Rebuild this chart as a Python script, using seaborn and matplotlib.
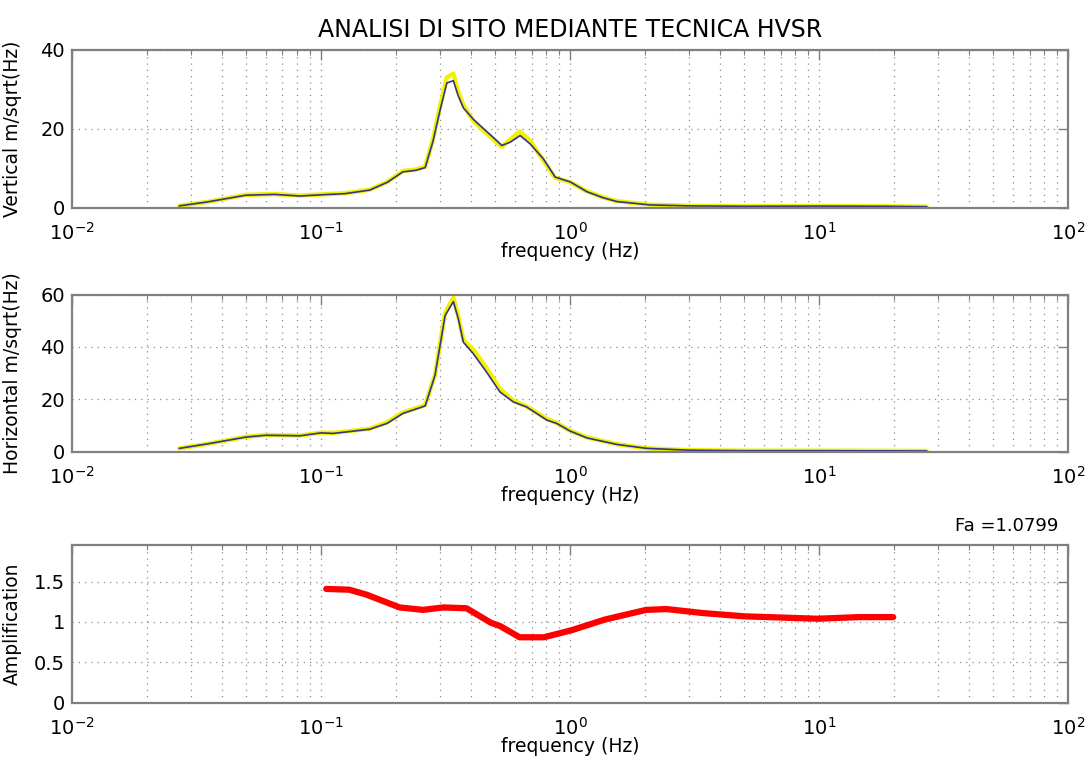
import numpy as np
import pandas as pd
import matplotlib
matplotlib.use("Agg")
import matplotlib.pyplot as plt
import seaborn as sns
from matplotlib.ticker import LogLocator, NullFormatter, FixedLocator

# Vertical spectrum (Hz, m/sqrt(Hz))
freq_v = [0.027, 0.035, 0.05, 0.065, 0.0825, 0.1, 0.125, 0.157, 0.185, 0.213, 0.24, 0.262,
          0.282, 0.300, 0.320, 0.340, 0.355, 0.373, 0.409, 0.45, 0.492, 0.532, 0.574, 0.63,
          0.691, 0.781, 0.871, 0.93, 1.0, 1.167, 1.35, 1.54, 2.09, 3.0, 5.0, 10.0, 18.0, 27.0]
vert_line = [0.5, 1.5, 3.2, 3.4, 3.0, 3.3, 3.6, 4.5, 6.5, 9.1, 9.5, 10.2,
             17.0, 24.5, 31.6, 32.2, 28.5, 25.3, 22.4, 20.0, 17.8, 15.8, 16.6, 18.3,
             16.2, 12.4, 7.8, 7.2, 6.6, 4.1, 2.6, 1.6, 0.75, 0.5, 0.4, 0.45, 0.4, 0.3]
vert_band = [0.5, 1.5, 3.3, 3.5, 3.1, 3.4, 3.7, 4.6, 6.6, 9.3, 9.7, 10.4,
             17.5, 25.5, 33.0, 34.0, 29.5, 26.0, 22.0, 19.5, 17.3, 15.5, 17.3, 19.3,
             17.0, 12.0, 7.6, 7.1, 6.5, 4.2, 2.7, 1.7, 0.8, 0.5, 0.4, 0.45, 0.4, 0.3]

# Horizontal spectrum
freq_h = [0.027, 0.035, 0.05, 0.06, 0.0825, 0.1, 0.112, 0.157, 0.184, 0.213, 0.262, 0.287,
          0.315, 0.340, 0.356, 0.373, 0.409, 0.462, 0.523, 0.592, 0.669, 0.806, 0.884, 1.0,
          1.167, 1.54, 2.03, 3.0, 5.0, 10.0, 18.0, 27.0]
horiz_line = [1.3, 3.0, 5.6, 6.3, 6.1, 7.2, 7.0, 8.6, 10.8, 14.6, 17.5, 29.2,
              52.0, 57.3, 50.7, 41.8, 37.4, 30.4, 22.8, 19.0, 17.1, 12.1, 10.8, 7.9,
              5.3, 2.8, 1.3, 0.6, 0.4, 0.4, 0.35, 0.3]
horiz_band = [1.3, 3.0, 5.7, 6.4, 6.2, 7.3, 7.2, 8.8, 11.2, 15.0, 17.8, 29.5,
              53.0, 58.8, 51.5, 42.5, 39.0, 32.0, 24.0, 19.5, 17.3, 12.6, 11.0, 8.0,
              5.5, 2.9, 1.3, 0.6, 0.4, 0.4, 0.35, 0.3]

# Amplification (H/V)
freq_a = [0.105, 0.13, 0.152, 0.207, 0.257, 0.31, 0.384, 0.481, 0.523, 0.627, 0.785,
          1.02, 1.38, 2.02, 2.44, 3.42, 5.0, 9.84, 14.4, 19.8]
amp = [1.41, 1.40, 1.34, 1.18, 1.15, 1.18, 1.17, 0.99, 0.95, 0.81, 0.81,
       0.90, 1.03, 1.15, 1.16, 1.11, 1.07, 1.04, 1.06, 1.06]

fa_value = "1.0799"

sns.set_style("white")
plt.rcParams['font.family'] = ['DejaVu Sans']
plt.rcParams['mathtext.default'] = 'regular'
plt.rcParams['text.color'] = 'black'
plt.rcParams['axes.labelcolor'] = 'black'

fig = plt.figure(figsize=(10.88, 7.67), dpi=100)
ax_v = fig.add_axes([0.066, 0.729, 0.916, 0.206])
ax_h = fig.add_axes([0.066, 0.411, 0.916, 0.205])
ax_a = fig.add_axes([0.066, 0.084, 0.916, 0.206])

grid_kw = dict(linestyle=(0, (1, 4)), color='#8c8c8c', linewidth=0.9)


def style_axes(ax, ylim, yticks, yticklabels, ylabel):
    ax.set_xscale('log')
    ax.set_xlim(0.01, 100)
    ax.set_ylim(*ylim)
    ax.xaxis.set_minor_locator(LogLocator(base=10, subs=np.arange(2, 10), numticks=20))
    ax.xaxis.set_minor_formatter(NullFormatter())
    ax.set_xticks([0.01, 0.1, 1, 10, 100])
    ax.set_xticklabels([r'$10^{-2}$', r'$10^{-1}$', r'$10^{0}$', r'$10^{1}$', r'$10^{2}$'])
    ax.yaxis.set_major_locator(FixedLocator(yticks))
    ax.set_yticklabels(yticklabels)
    ax.grid(True, which='major', axis='both', **grid_kw)
    ax.grid(True, which='minor', axis='x', **grid_kw)
    ax.tick_params(which='both', direction='in', top=True, right=True,
                   labelsize=14, colors='#808080', labelcolor='black')
    ax.tick_params(axis='x', which='major', pad=10)
    ax.tick_params(axis='y', which='major', pad=5)
    ax.tick_params(which='major', length=7, width=1.0)
    ax.tick_params(which='minor', length=3.5, width=0.8)
    for s in ax.spines.values():
        s.set_color('#808080')
        s.set_linewidth(1.6)
    ax.set_xlabel('frequency (Hz)', fontsize=13.5, labelpad=-1)
    ax.set_ylabel(ylabel, fontsize=13.5)
    ax.yaxis.set_label_coords(-0.05, 0.5)


df_v = pd.DataFrame({'freq': freq_v, 'line': vert_line, 'band': vert_band})
sns.lineplot(data=df_v, x='freq', y='band', ax=ax_v, color='#f2f200', linewidth=3.2, sort=False)
sns.lineplot(data=df_v, x='freq', y='line', ax=ax_v, color='#34348a', linewidth=1.2, sort=False)
style_axes(ax_v, (0, 40), [0, 20, 40], ['0', '20', '40'], 'Vertical m/sqrt(Hz)')
ax_v.set_title('ANALISI DI SITO MEDIANTE TECNICA HVSR', fontsize=17, pad=9, color='black')

df_h = pd.DataFrame({'freq': freq_h, 'line': horiz_line, 'band': horiz_band})
sns.lineplot(data=df_h, x='freq', y='band', ax=ax_h, color='#f2f200', linewidth=3.2, sort=False)
sns.lineplot(data=df_h, x='freq', y='line', ax=ax_h, color='#34348a', linewidth=1.2, sort=False)
style_axes(ax_h, (0, 60), [0, 20, 40, 60], ['0', '20', '40', '60'], 'Horizontal m/sqrt(Hz)')

df_a = pd.DataFrame({'freq': freq_a, 'amp': amp})
sns.lineplot(data=df_a, x='freq', y='amp', ax=ax_a, color='#ff0000', linewidth=4.5, sort=False)
style_axes(ax_a, (0, 1.96), [0, 0.5, 1, 1.5], ['0', '0.5', '1', '1.5'], 'Amplification')
ax_a.text(0.99, 1.06, 'Fa =' + fa_value, transform=ax_a.transAxes, ha='right', va='bottom',
          fontsize=13)

fig.savefig('out.png', dpi=100)
